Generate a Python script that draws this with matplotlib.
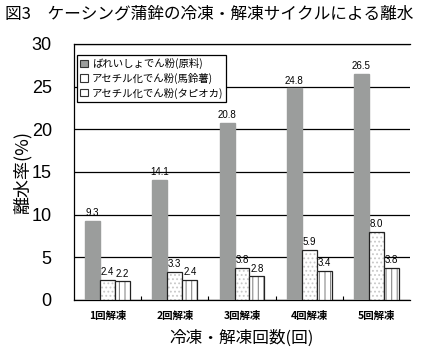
import numpy as np
import matplotlib.pyplot as plt

plt.rcParams['font.family'] = ['Noto Sans CJK JP', 'DejaVu Sans']
plt.rcParams['hatch.linewidth'] = 0.8

# data
categories = ['1回解凍', '2回解凍', '3回解凍', '4回解凍', '5回解凍']
series_names = ['ばれいしょでん粉(原料)', 'アセチル化でん粉(馬鈴薯)', 'アセチル化でん粉(タピオカ)']
raw = [9.3, 14.1, 20.8, 24.8, 26.5]
acet_potato = [2.4, 3.3, 3.8, 5.9, 8.0]
acet_tapioca = [2.2, 2.4, 2.8, 3.4, 3.8]

fig = plt.figure(figsize=(4.25, 3.54), dpi=100)
ax = fig.add_axes([74/425, 1-300/354, 336/425, 256/354])

x = np.arange(len(categories))
w = 0.223

b1 = ax.bar(x - w, raw, w, color='#9b9d9c', edgecolor='#9b9d9c', zorder=3, label=series_names[0])
# hatch drawn in light grey, outline drawn on top in black
ax.bar(x, acet_potato, w, color='white', edgecolor='#c8c8c8', hatch='....', lw=0, zorder=3)
b2 = ax.bar(x, acet_potato, w, color='none', edgecolor='#222222', lw=0.9, zorder=3)
ax.bar(x + w, acet_tapioca, w, color='white', edgecolor='#8a8a8a', hatch='|||', lw=0, zorder=3)
b3 = ax.bar(x + w, acet_tapioca, w, color='none', edgecolor='#222222', lw=0.9, zorder=3)

for bars, vals in [(b1, raw), (b2, acet_potato), (b3, acet_tapioca)]:
    for r, v in zip(bars, vals):
        ax.text(r.get_x() + r.get_width()/2, v + 0.3, f'{v:.1f}', ha='center', va='bottom',
                fontsize=7, family='Liberation Sans', zorder=4)

ax.set_ylim(0, 30)
ax.set_xlim(-0.5, 4.5)
ax.set_yticks(range(0, 31, 5))
ax.yaxis.grid(True, color='black', lw=0.9, zorder=0)
ax.set_axisbelow(True)
ax.tick_params(axis='y', length=0, labelsize=13, pad=16)
for t in ax.get_yticklabels():
    t.set_family('Liberation Sans')
ax.set_xticks(x)
ax.set_xticklabels(categories, fontsize=7.5, fontweight='bold')
ax.set_xticks(np.arange(0.5, 4.5, 1), minor=True)
ax.tick_params(axis='x', which='major', length=0, pad=8)
ax.tick_params(axis='x', which='minor', direction='in', length=3, width=0.8)
ax.spines['right'].set_visible(False)
for s in ['left', 'top', 'bottom']:
    ax.spines[s].set_linewidth(0.9)

ax.set_ylabel('離水率(%)', fontsize=13)
ax.yaxis.set_label_coords(-0.125, 0.5)
ax.set_xlabel('冷凍・解凍回数(回)', fontsize=12, labelpad=6)

# legend proxies
h1 = plt.Rectangle((0, 0), 1, 1, facecolor='#9b9d9c', edgecolor='#333333', lw=0.8)
h2 = plt.Rectangle((0, 0), 1, 1, facecolor='white', edgecolor='#333333', lw=0.8)
h3 = plt.Rectangle((0, 0), 1, 1, facecolor='white', edgecolor='#333333', lw=0.8)
leg = ax.legend([h1, h2, h3], series_names, loc='upper left', bbox_to_anchor=(0.0, 0.97),
                fontsize=7.5, frameon=True, fancybox=False, edgecolor='black', framealpha=1,
                handlelength=0.7, handleheight=0.7, handletextpad=0.4, borderpad=0.3,
                labelspacing=0.35, borderaxespad=0.3)
leg.get_frame().set_linewidth(0.9)
leg.set_zorder(5)

fig.text(0.012, 0.985, '図3　ケーシング蒲鉾の冷凍・解凍サイクルによる離水', fontsize=12, va='top', ha='left')

fig.savefig('out.png', dpi=100)
